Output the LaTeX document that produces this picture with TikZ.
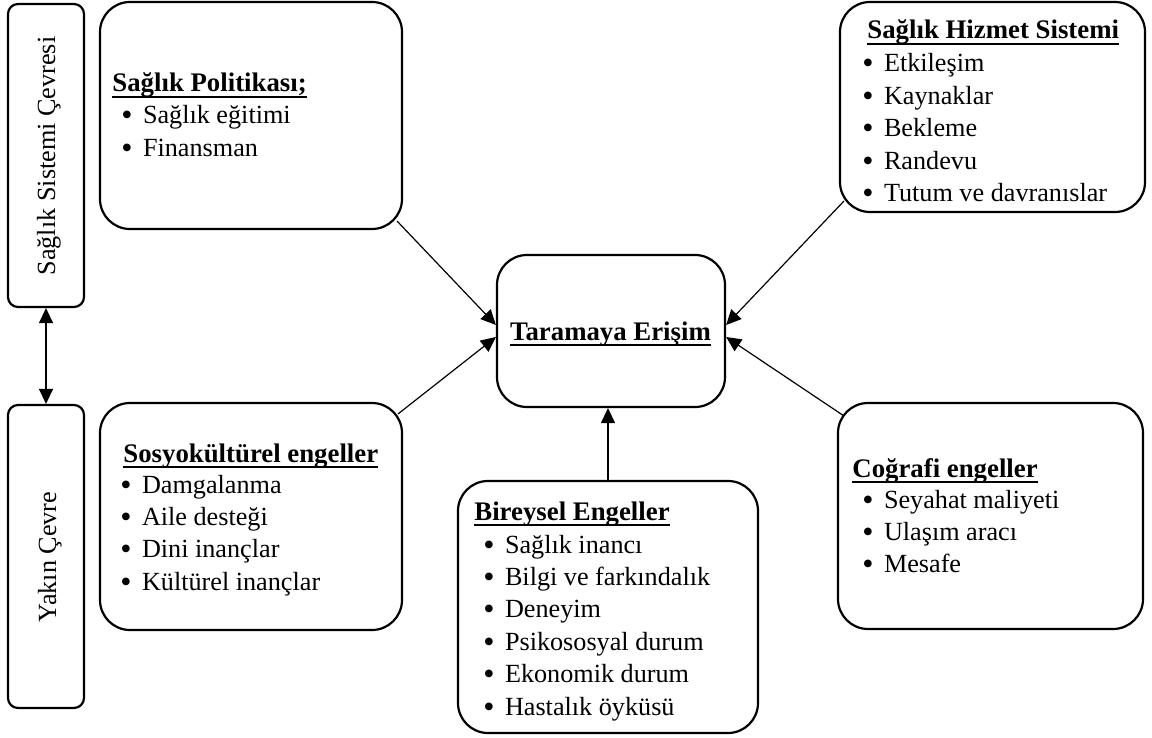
\documentclass[tikz,border=0pt]{standalone}
\usepackage{fontspec}
\setmainfont{Liberation Serif}
\usetikzlibrary{arrows.meta,calc}
% bold heading with a rule under it
\newcommand\ttl[1]{\setbox0\hbox{\fontsize{13.4}{16.2}\selectfont\bfseries #1}\rlap{\rule[-3pt]{\wd0}{1pt}}\box0}
% bullet item
\newcommand\itm[1]{\makebox[10.8pt][l]{\raisebox{-1pt}{\fontsize{16}{16}\selectfont\textbullet}}#1}
% list whose reference point is the first baseline
\newenvironment{blist}{\begin{tabular}[t]{@{}l@{}}}{\end{tabular}}
\begin{document}
\begin{tikzpicture}[x=0.5pt,y=-0.5pt,
  box/.style={draw, line width=1.1pt, rounded corners=15pt, inner sep=0pt},
  sidebox/.style={draw, line width=1.1pt, rounded corners=5pt, inner sep=0pt,
    minimum width=38pt, minimum height=151.5pt},
  txt/.style={font=\fontsize{13.1}{16.2}\selectfont, inner sep=0pt, anchor=base west},
  side/.style={font=\fontsize{13.1}{16.2}\selectfont, inner sep=0pt, rotate=90, anchor=base},
  arr/.style={line width=0.6pt, -{Triangle[length=7.5pt,width=7pt]}}]
\useasboundingbox (0,0) rectangle (1152,738);

% side frames
\node[sidebox] (sys) at (46,155.5) {};
\node[sidebox] (yak) at (46,556.5) {};
\node[side] (sysT) at (55,156) {Sağlık Sistemi Çevresi};
\node[side] (yakT) at (56,557) {Yakın Çevre};

% boxes
\node[box, minimum width=151pt, minimum height=113.5pt] (pol) at (251,115.5) {};
\node[box, minimum width=152.5pt, minimum height=105pt] (hiz) at (992.5,107) {};
\node[box, minimum width=114pt, minimum height=76pt] (cen) at (611,331) {};
\node[box, minimum width=151pt, minimum height=113.5pt] (sos) at (251,516.5) {};
\node[box, minimum width=150pt, minimum height=126pt] (bir) at (608,607) {};
\node[box, minimum width=152.5pt, minimum height=113pt] (cog) at (990.5,516) {};

% headings
\node[txt] (polT) at (112,92) {\ttl{Sağlık Politikası;}};
\node[txt] (hizT) at (867,39) {\ttl{Sağlık Hizmet Sistemi}};
\node[txt, anchor=base] (cenT) at (610.5,340) {\ttl{Taramaya Erişim}};
\node[txt] (sosT) at (123,462) {\ttl{Sosyokültürel engeller}};
\node[txt] (birT) at (474,520) {\ttl{Bireysel Engeller}};
\node[txt] (cogT) at (852,477) {\ttl{Coğrafi engeller}};

% item lists
\node[txt] (polL) at (121,124) {\begin{blist}\itm{Sağlık eğitimi}\\ \itm{Finansman}\end{blist}};
\node[txt] (hizL) at (862,72) {\begin{blist}\itm{Etkileşim}\\ \itm{Kaynaklar}\\ \itm{Bekleme}\\ \itm{Randevu}\\ \itm{Tutum ve davranıslar}\end{blist}};
\node[txt] (sosL) at (120,493) {\begin{blist}\itm{Damgalanma}\\ \itm{Aile desteği}\\ \itm{Dini inançlar}\\ \itm{Kültürel inançlar}\end{blist}};
\node[txt] (birL) at (483,553) {\begin{blist}\itm{Sağlık inancı}\\ \itm{Bilgi ve farkındalık}\\ \itm{Deneyim}\\ \itm{Psikososyal durum}\\ \itm{Ekonomik durum}\\ \itm{Hastalık öyküsü}\end{blist}};
\node[txt] (cogL) at (862,508) {\begin{blist}\itm{Seyahat maliyeti}\\ \itm{Ulaşım aracı}\\ \itm{Mesafe}\end{blist}};

% connectors
\draw[arr] ([shift={(-6,-9)}]pol.south east) -- ([shift={(0,-6)}]cen.west);
\draw[arr] ([shift={(-5,12)}]sos.north east) -- ([shift={(0,6)}]cen.west);
\draw[arr] ([shift={(5,-12)}]hiz.south west) -- ([shift={(0,-6)}]cen.east);
\draw[arr] ([shift={(7,14)}]cog.north west) -- ([shift={(0,6)}]cen.east);
\draw[arr] (bir.north) -- (bir.north |- cen.south);
\draw[line width=0.6pt, {Triangle[length=7.5pt,width=7pt]}-{Triangle[length=7.5pt,width=7pt]}] (sys.south) -- (yak.north);
\end{tikzpicture}
\end{document}
